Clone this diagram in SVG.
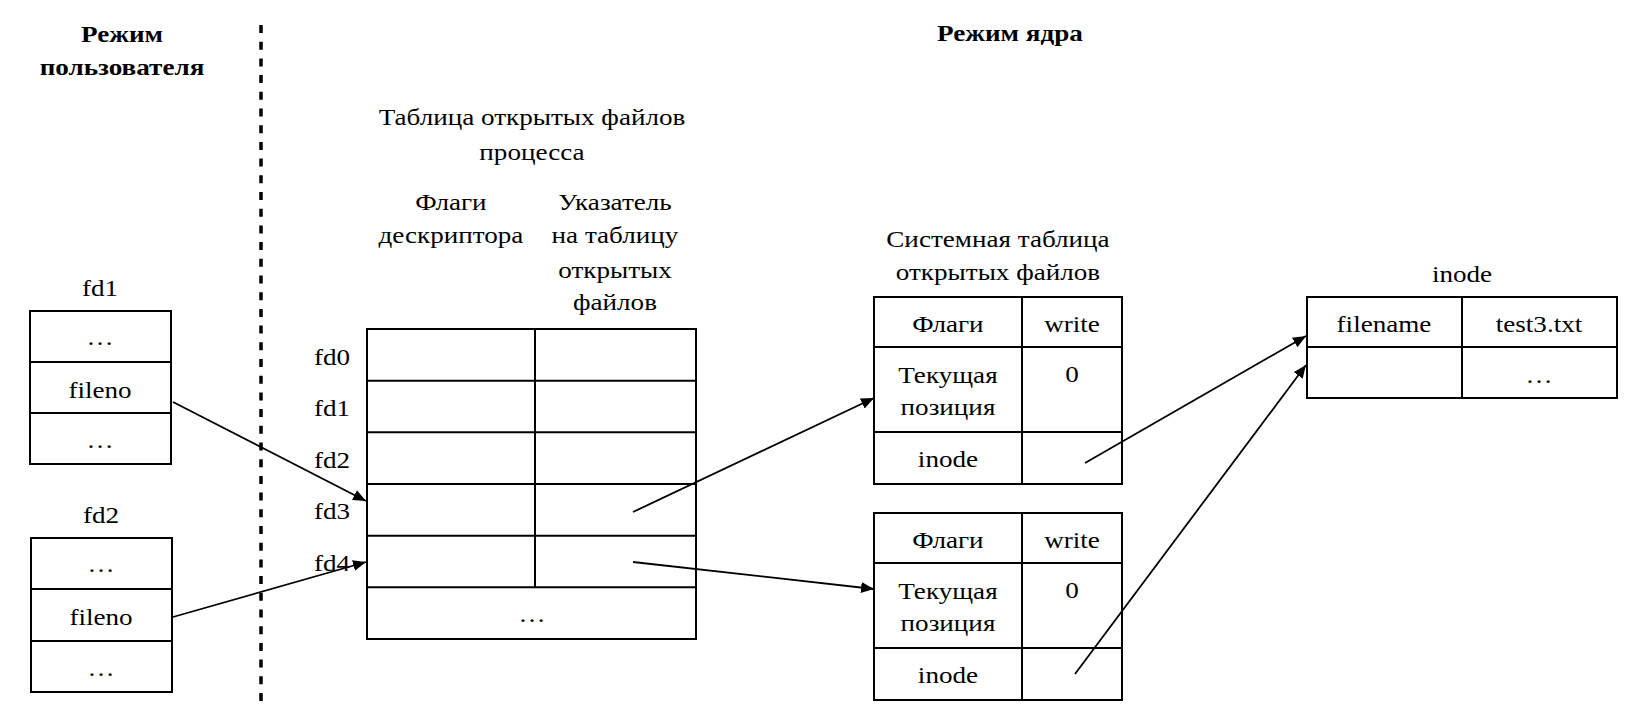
<svg xmlns="http://www.w3.org/2000/svg" width="1628" height="716" viewBox="0 0 1628 716">
<defs>
<marker id="ah" viewBox="0 0 13 11" refX="13" refY="5.5" markerWidth="13" markerHeight="11" markerUnits="userSpaceOnUse" orient="auto">
<path d="M0,0 L13,5.5 L0,11 z" fill="#000"/>
</marker>
<style>
text{font-family:'Liberation Serif','Times New Roman',serif;font-size:24px;fill:#000;text-anchor:middle;transform-box:fill-box;transform-origin:center;transform:scaleX(1.13)}
.b{font-weight:bold;font-size:24px}
.l{text-anchor:start}
.box{fill:#fff;stroke:#000;stroke-width:2}
.ln{stroke:#000;stroke-width:2;fill:none}
.ar{stroke:#000;stroke-width:1.8;fill:none}
</style>
</defs>
<rect width="1628" height="716" fill="#fff"/>
<g id="headers">
<text class="b" x="122" y="42">Режим</text>
<text class="b" x="122" y="75">пользователя</text>
<text class="b" x="1010" y="41">Режим ядра</text>
<line x1="261" y1="25" x2="261" y2="706" stroke="#000" stroke-width="3.5" stroke-dasharray="8 8.7"/>
</g>

<g id="fd1">
<text x="100" y="296">fd1</text>
<rect class="box" x="30" y="311" width="141" height="153"/>
<line class="ln" x1="30" y1="362" x2="171" y2="362"/>
<line class="ln" x1="30" y1="413" x2="171" y2="413"/>
<text x="100" y="345">…</text>
<text x="100" y="398">fileno</text>
<text x="100" y="448">…</text>
</g>

<g id="fd2">
<text x="101" y="523">fd2</text>
<rect class="box" x="31" y="538" width="141" height="154"/>
<line class="ln" x1="31" y1="589" x2="172" y2="589"/>
<line class="ln" x1="31" y1="641" x2="172" y2="641"/>
<text x="101" y="572">…</text>
<text x="101" y="625">fileno</text>
<text x="101" y="676">…</text>
</g>

<g id="proc-table">
<text x="532" y="125">Таблица открытых файлов</text>
<text x="532" y="160">процесса</text>
<text x="451" y="210">Флаги</text>
<text x="451" y="243">дескриптора</text>
<text x="615" y="210">Указатель</text>
<text x="615" y="243">на таблицу</text>
<text x="615" y="278">открытых</text>
<text x="615" y="310">файлов</text>
<rect class="box" x="367" y="329" width="329" height="310"/>
<line class="ln" x1="367" y1="380.7" x2="696" y2="380.7"/>
<line class="ln" x1="367" y1="432.3" x2="696" y2="432.3"/>
<line class="ln" x1="367" y1="484" x2="696" y2="484"/>
<line class="ln" x1="367" y1="535.7" x2="696" y2="535.7"/>
<line class="ln" x1="367" y1="587.3" x2="696" y2="587.3"/>
<line class="ln" x1="535" y1="329" x2="535" y2="587.3"/>
<text class="l" x="316" y="365">fd0</text>
<text class="l" x="316" y="416">fd1</text>
<text class="l" x="316" y="468">fd2</text>
<text class="l" x="316" y="519">fd3</text>
<text class="l" x="316" y="571">fd4</text>
<text x="532" y="622">…</text>
</g>

<g id="sys-table-1">
<text x="998" y="247">Системная таблица</text>
<text x="998" y="280">открытых файлов</text>
<rect class="box" x="874" y="297" width="248" height="187"/>
<line class="ln" x1="874" y1="347" x2="1122" y2="347"/>
<line class="ln" x1="874" y1="432" x2="1122" y2="432"/>
<line class="ln" x1="1022" y1="297" x2="1022" y2="484"/>
<text x="948" y="332">Флаги</text>
<text x="1072" y="332">write</text>
<text x="948" y="383">Текущая</text>
<text x="948" y="415">позиция</text>
<text x="1072" y="382">0</text>
<text x="948" y="467">inode</text>
</g>

<g id="sys-table-2">
<rect class="box" x="874" y="513" width="248" height="187"/>
<line class="ln" x1="874" y1="563" x2="1122" y2="563"/>
<line class="ln" x1="874" y1="648" x2="1122" y2="648"/>
<line class="ln" x1="1022" y1="513" x2="1022" y2="700"/>
<text x="948" y="548">Флаги</text>
<text x="1072" y="548">write</text>
<text x="948" y="599">Текущая</text>
<text x="948" y="631">позиция</text>
<text x="1072" y="598">0</text>
<text x="948" y="683">inode</text>
</g>

<g id="inode">
<text x="1462" y="282">inode</text>
<rect class="box" x="1307" y="297" width="310" height="101"/>
<line class="ln" x1="1307" y1="347" x2="1617" y2="347"/>
<line class="ln" x1="1462" y1="297" x2="1462" y2="398"/>
<text x="1384" y="332">filename</text>
<text x="1539" y="332">test3.txt</text>
<text x="1539" y="383">…</text>
</g>

<g id="connectors">
<line class="ar" x1="173" y1="402" x2="366" y2="501" marker-end="url(#ah)"/>
<line class="ar" x1="173" y1="617" x2="366" y2="562" marker-end="url(#ah)"/>
<line class="ar" x1="633" y1="512" x2="874" y2="398" marker-end="url(#ah)"/>
<line class="ar" x1="633" y1="562" x2="874" y2="589" marker-end="url(#ah)"/>
<line class="ar" x1="1085" y1="463" x2="1306" y2="336" marker-end="url(#ah)"/>
<line class="ar" x1="1075" y1="674" x2="1306" y2="365" marker-end="url(#ah)"/>
</g>
</svg>
